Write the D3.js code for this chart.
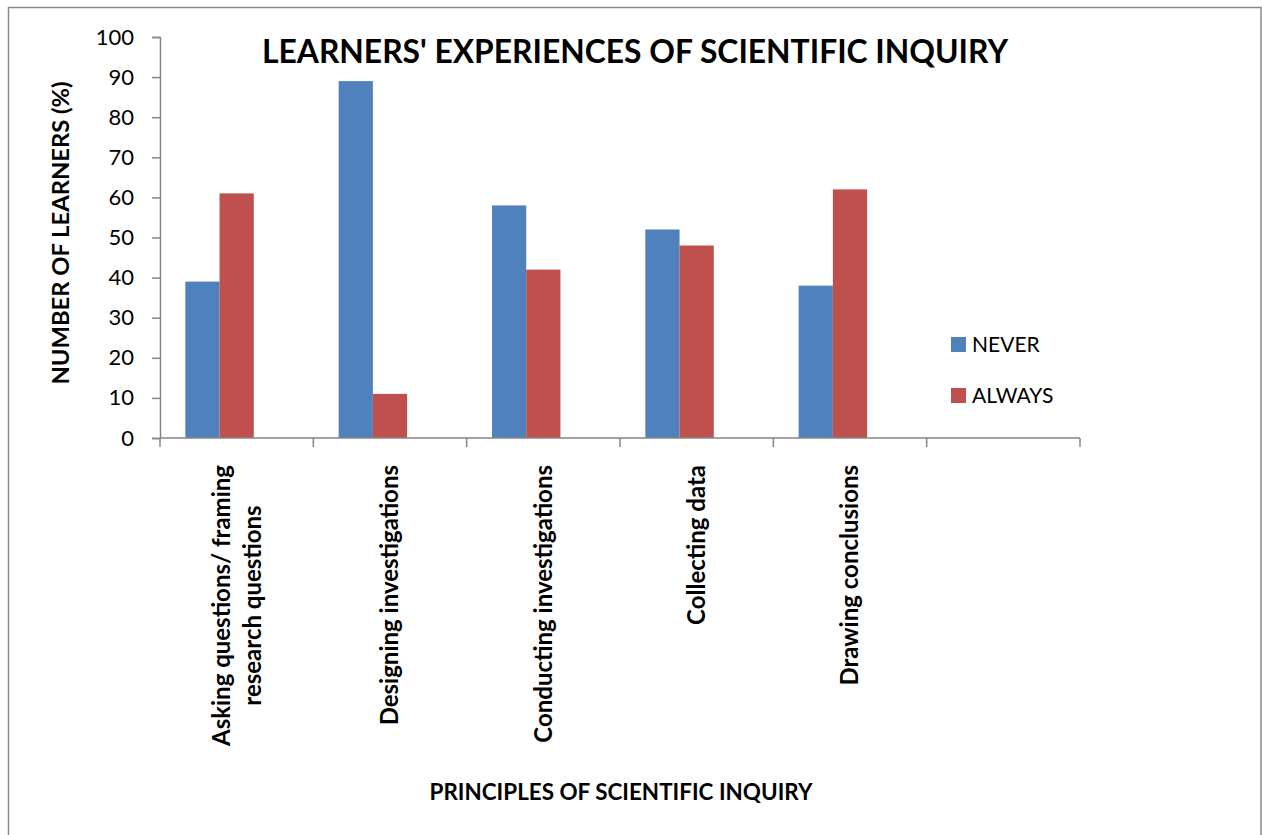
<!DOCTYPE html>
<html lang="en">
<head>
  <meta charset="UTF-8">
  <title>Learners' experiences of scientific inquiry</title>
  <script src="https://d3js.org/d3.v7.min.js"></script>
  <style>
    body { margin: 0; background: #fff; }
    svg text { font-family: Lato, "Open Sans", sans-serif; fill: #000; }
  </style>
</head>
<body>
  <div id="chart"></div>
  <script>
    // Chart data
    const categories = [
      "Asking questions/ framing\nresearch questions",
      "Designing investigations",
      "Conducting investigations",
      "Collecting data",
      "Drawing conclusions",
      ""
    ];
    const series = ["NEVER", "ALWAYS"];
    const never = [39, 89, 58, 52, 38];
    const always = [61, 11, 42, 48, 62];
    const yTicks = [0, 10, 20, 30, 40, 50, 60, 70, 80, 90, 100];
    const colors = ["#4F81BD", "#C0504D"];

    const W = 1262, H = 835;
    const plot = { left: 160, right: 1080, top: 37, bottom: 438 };

    const svg = d3.select("#chart").append("svg")
      .attr("width", W)
      .attr("height", H);

    svg.append("rect").attr("width", W).attr("height", H).attr("fill", "#fff");

    // outer frame (bottom edge falls below the picture)
    svg.append("rect")
      .attr("x", 8.5).attr("y", 7.5)
      .attr("width", 1252.5).attr("height", 900)
      .attr("fill", "none")
      .attr("stroke", "#8a8a8a")
      .attr("stroke-width", 1.5);

    // scales
    const x = d3.scaleBand()
      .domain(d3.range(categories.length))
      .range([plot.left, plot.right])
      .padding(0);

    // the original chart keeps room for a third, empty series
    const slots = [...series, "(empty)"];
    const x1 = d3.scaleBand()
      .domain(slots)
      .range([0, x.bandwidth()])
      .paddingInner(0)
      .paddingOuter(0.74);

    const y = d3.scaleLinear()
      .domain([0, 100])
      .range([plot.bottom, plot.top]);

    const color = d3.scaleOrdinal().domain(series).range(colors);

    // bars
    const rows = never.map((v, i) => ({ i, values: [
      { key: "NEVER", value: v },
      { key: "ALWAYS", value: always[i] }
    ]}));

    svg.selectAll(".group")
      .data(rows)
      .enter().append("g")
      .attr("class", "group")
      .attr("transform", d => `translate(${x(d.i)},0)`)
      .selectAll("rect")
      .data(d => d.values)
      .enter().append("rect")
      .attr("x", d => x1(d.key))
      .attr("y", d => y(d.value))
      .attr("width", x1.bandwidth())
      .attr("height", d => plot.bottom - y(d.value))
      .attr("fill", d => color(d.key));

    // y axis
    const yAxis = svg.append("g")
      .attr("transform", `translate(${plot.left},0)`)
      .call(d3.axisLeft(y).tickValues(yTicks).tickSize(8).tickPadding(18));
    yAxis.select(".domain").attr("stroke", "#868686").attr("stroke-width", 1.5);
    yAxis.selectAll(".tick line").attr("stroke", "#868686").attr("stroke-width", 1.5);
    yAxis.selectAll(".tick text")
      .style("font-family", "Lato")
      .style("font-size", "22px")
      .attr("fill", "#000");

    // x axis: ticks at category boundaries
    const boundaries = d3.range(categories.length + 1)
      .map(i => i < categories.length ? x(i) : x(i - 1) + x.bandwidth());
    const xAxis = svg.append("g");
    xAxis.append("line")
      .attr("x1", plot.left).attr("x2", plot.right)
      .attr("y1", plot.bottom).attr("y2", plot.bottom)
      .attr("stroke", "#868686").attr("stroke-width", 1.5);
    xAxis.selectAll(".xtick")
      .data(boundaries)
      .enter().append("line")
      .attr("class", "xtick")
      .attr("x1", d => d).attr("x2", d => d)
      .attr("y1", plot.bottom).attr("y2", plot.bottom + 9)
      .attr("stroke", "#868686").attr("stroke-width", 1.5);

    // category labels, rotated, ending just under the axis
    const labelTop = 465;
    const lineGap = 31;
    categories.forEach((c, i) => {
      if (!c) return;
      const lines = c.split("\n");
      const g = svg.append("g")
        .attr("transform", `translate(${x(i) + x.bandwidth() / 2},${labelTop}) rotate(-90)`);
      const texts = g.selectAll("text")
        .data(lines)
        .enter().append("text")
        .attr("text-anchor", "middle")
        .style("font-size", "24px")
        .style("font-weight", "bold")
        .attr("y", (d, k) => (k - (lines.length - 1) / 2) * lineGap)
        .attr("dy", "0.35em")
        .text(d => d);
      const maxLen = d3.max(texts.nodes(), n => n.getComputedTextLength());
      texts.attr("x", -maxLen / 2);
    });

    // title
    svg.append("text")
      .attr("x", 635).attr("y", 63)
      .attr("text-anchor", "middle")
      .attr("textLength", 746)
      .attr("lengthAdjust", "spacingAndGlyphs")
      .style("font-size", "32px")
      .style("font-weight", "bold")
      .text("LEARNERS' EXPERIENCES OF SCIENTIFIC INQUIRY");

    // axis titles
    svg.append("text")
      .attr("transform", "translate(69,233) rotate(-90)")
      .attr("text-anchor", "middle")
      .attr("textLength", 303)
      .attr("lengthAdjust", "spacingAndGlyphs")
      .style("font-size", "22px")
      .style("font-weight", "bold")
      .text("NUMBER OF LEARNERS (%)");

    svg.append("text")
      .attr("x", 621).attr("y", 800)
      .attr("text-anchor", "middle")
      .attr("textLength", 383)
      .attr("lengthAdjust", "spacingAndGlyphs")
      .style("font-size", "22px")
      .style("font-weight", "bold")
      .text("PRINCIPLES OF SCIENTIFIC INQUIRY");

    // legend
    const legend = svg.selectAll(".legend")
      .data(series)
      .enter().append("g")
      .attr("class", "legend")
      .attr("transform", (d, i) => `translate(951,${337 + i * 51})`);
    legend.append("rect")
      .attr("width", 15).attr("height", 15)
      .attr("fill", d => color(d));
    legend.append("text")
      .attr("x", 21).attr("y", 15)
      .style("font-size", "21px")
      .text(d => d);
  </script>
</body>
</html>
